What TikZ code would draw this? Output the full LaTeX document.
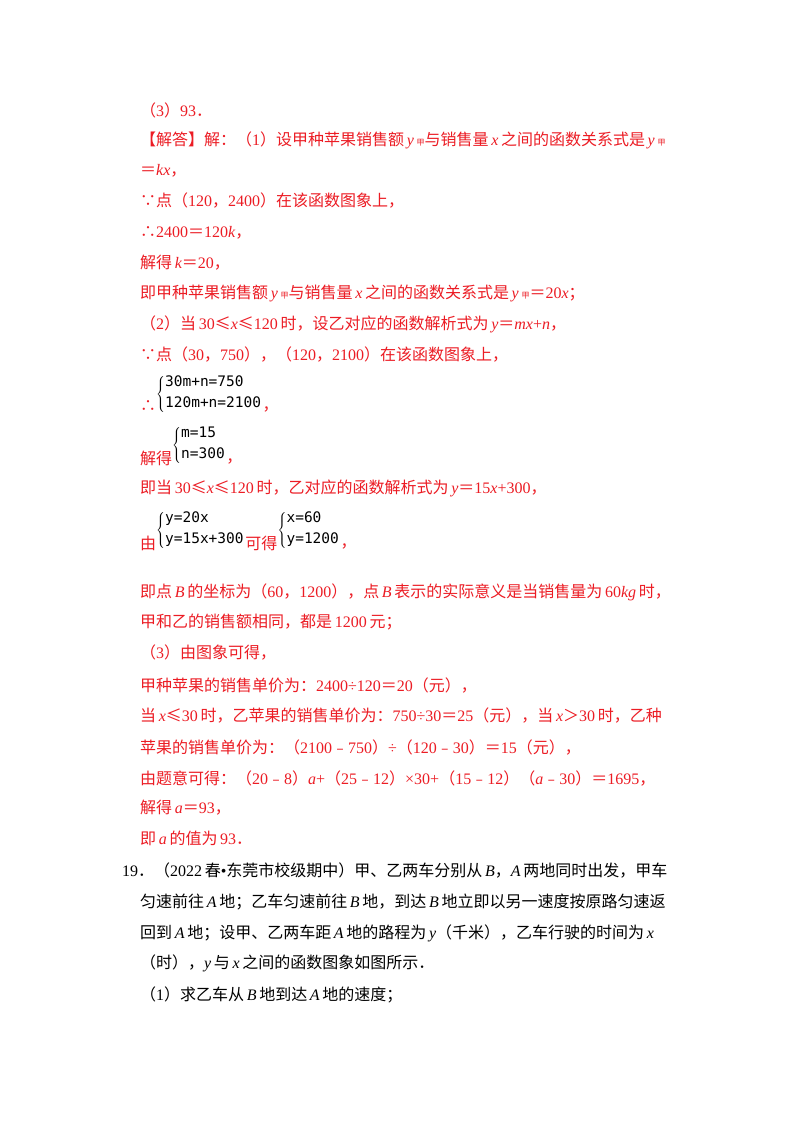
\documentclass[tikz,border=0pt]{standalone}
\usepackage{fontspec}
\setmainfont{Liberation Serif}
\newfontfamily\cjk{Noto Sans CJK SC}
\newfontfamily\sysf{DejaVu Sans Mono}
\XeTeXinterchartokenstate=1
\newXeTeXintercharclass\cjkclass
\count255="4E00 \loop \XeTeXcharclass\count255=\cjkclass \advance\count255 by 1 \ifnum\count255<"A000 \repeat
\count255="3000 \loop \XeTeXcharclass\count255=\cjkclass \advance\count255 by 1 \ifnum\count255<"3040 \repeat
\count255="FF00 \loop \XeTeXcharclass\count255=\cjkclass \advance\count255 by 1 \ifnum\count255<"FF60 \repeat
\count255="FE30 \loop \XeTeXcharclass\count255=\cjkclass \advance\count255 by 1 \ifnum\count255<"FE70 \repeat
\XeTeXcharclass"2234=\cjkclass \XeTeXcharclass"2235=\cjkclass
\XeTeXcharclass"2264=\cjkclass \XeTeXcharclass"2265=\cjkclass
\XeTeXinterchartoks 0 \cjkclass={\cjk}
\XeTeXinterchartoks 4095 \cjkclass={\cjk}
\XeTeXinterchartoks \cjkclass 0={\rmfamily}
\XeTeXinterchartoks \cjkclass 4095={\rmfamily}
\newcommand\vv[1]{{\rmfamily\itshape #1}}
\newcommand\jia{\,{\fontsize{8}{8}\selectfont 甲}}
\newcommand\sy[1]{\mbox{\sysf #1}}
\definecolor{ansred}{RGB}{236,28,36}
\begin{document}
\begin{tikzpicture}[x=1pt,y=-1pt,
  ln/.style={anchor=west,inner sep=0pt,font=\fontsize{16}{16}\selectfont},
  rd/.style={ln,text=ansred},
  bk/.style={ln,text=black},
  sys/.style={anchor=west,inner sep=0pt,text=black,font=\fontsize{14.5}{14.5}\selectfont}]
\useasboundingbox[fill=white] (0,0) rectangle (800,1132);
\node[rd] (l1) at (140,110) {（3）93．};
\node[rd] (l2) at (140,140) {【解答】解：（1）设甲种苹果销售额\,\vv{y}\jia 与销售量\,\vv{x}\,之间的函数关系式是\,\vv{y}\jia};
\node[rd] (l3) at (140,171) {＝\vv{kx}，};
\node[rd] (l4) at (140,201) {∵点（120，2400）在该函数图象上，};
\node[rd] (l5) at (140,233) {∴2400＝120\vv{k}，};
\node[rd] (l6) at (140,263) {解得\,\vv{k}＝20，};
\node[rd] (l7) at (140,293) {即甲种苹果销售额\,\vv{y}\jia 与销售量\,\vv{x}\,之间的函数关系式是\,\vv{y}\jia＝20\vv{x}；};
\node[rd] (l8) at (140,324) {（2）当\,30≤\vv{x}≤120\,时，设乙对应的函数解析式为\,\vv{y}＝\vv{mx}+\vv{n}，};
\node[rd] (l9) at (140,355) {∵点（30，750），（120，2100）在该函数图象上，};
\node[rd] (t1) at (140,406) {∴};
\node[sys] (s1) at (156,394) {$\left\{\begin{array}{@{}l@{}}\sy{30m+n=750}\\[6pt]\sy{120m+n=2100}\end{array}\right.$};
\node[rd,anchor=base west] (c1) at (s1.east |- 0,410) {，};
\node[rd] (t2) at (140,458) {解得};
\node[sys] (s2) at (172,445) {$\left\{\begin{array}{@{}l@{}}\sy{m=15}\\[6pt]\sy{n=300}\end{array}\right.$};
\node[rd,anchor=base west] (c2) at (s2.east |- 0,462) {，};
\node[rd] (l10) at (140,488) {即当\,30≤\vv{x}≤120\,时，乙对应的函数解析式为\,\vv{y}＝15\vv{x}+300，};
\node[rd] (t3) at (140,543) {由};
\node[sys] (s3) at (156,530) {$\left\{\begin{array}{@{}l@{}}\sy{y=20x}\\[6pt]\sy{y=15x+300}\end{array}\right.$};
\node[rd] (t4) at (s3.east |- 0,543) {可得};
\node[sys] (s4) at (t4.east |- 0,530) {$\left\{\begin{array}{@{}l@{}}\sy{x=60}\\[6pt]\sy{y=1200}\end{array}\right.$};
\node[rd,anchor=base west] (c4) at (s4.east |- 0,547) {，};
\node[rd] (l11) at (140,592) {即点\,\vv{B}\,的坐标为（60，1200），点\,\vv{B}\,表示的实际意义是当销售量为\,60\vv{kg}\,时，};
\node[rd] (l12) at (140,622) {甲和乙的销售额相同，都是\,1200\,元；};
\node[rd] (l13) at (140,653) {（3）由图象可得，};
\node[rd] (l14) at (140,685) {甲种苹果的销售单价为：2400÷120＝20（元），};
\node[rd] (l15) at (140,715) {当\,\vv{x}≤30\,时，乙苹果的销售单价为：750÷30＝25（元），当\,\vv{x}＞30\,时，乙种};
\node[rd] (l16) at (140,747) {苹果的销售单价为：（2100﹣750）÷（120﹣30）＝15（元），};
\node[rd] (l17) at (140,778) {由题意可得：（20﹣8）\vv{a}+（25﹣12）×30+（15﹣12）（\vv{a}﹣30）＝1695，};
\node[rd] (l18) at (140,808) {解得\,\vv{a}＝93，};
\node[rd] (l19) at (140,838) {即\,\vv{a}\,的值为\,93．};
\node[bk] (q1) at (122,870) {19．（2022\,春•东莞市校级期中）甲、乙两车分别从\,\vv{B}，\vv{A}\,两地同时出发，甲车};
\node[bk] (q2) at (140,902) {匀速前往\,\vv{A}\,地；乙车匀速前往\,\vv{B}\,地，到达\,\vv{B}\,地立即以另一速度按原路匀速返};
\node[bk] (q3) at (140,933) {回到\,\vv{A}\,地；设甲、乙两车距\,\vv{A}\,地的路程为\,\vv{y}（千米），乙车行驶的时间为\,\vv{x}};
\node[bk] (q4) at (140,963) {（时），\vv{y}\,与\,\vv{x}\,之间的函数图象如图所示．};
\node[bk] (q5) at (140,995) {（1）求乙车从\,\vv{B}\,地到达\,\vv{A}\,地的速度；};
\end{tikzpicture}
\end{document}
